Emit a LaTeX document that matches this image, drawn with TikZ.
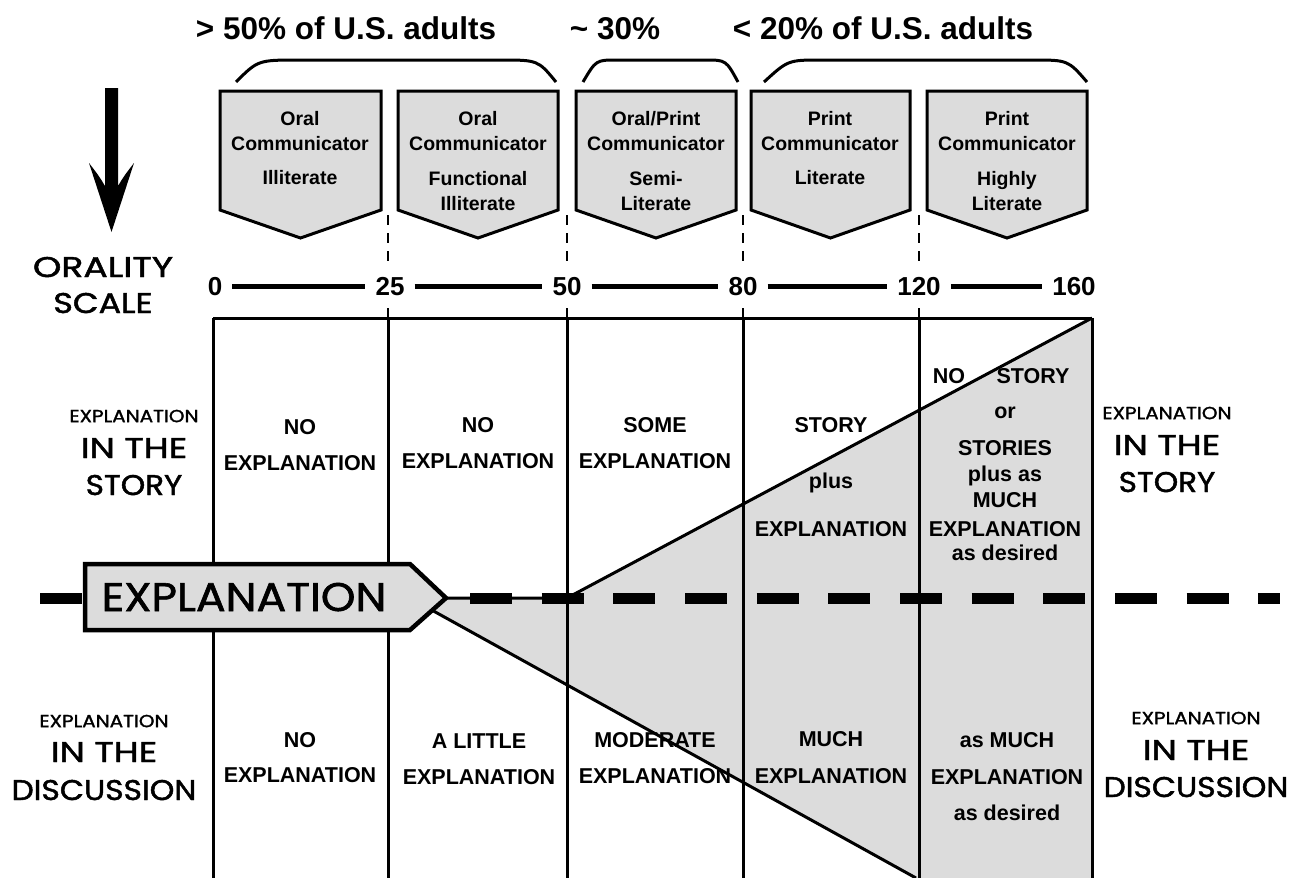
\documentclass[tikz,border=0pt]{standalone}
\usepackage{fontspec}
\usepackage{graphicx}
\setmainfont{Liberation Sans}
\newfontfamily\comicfont[FakeBold=1.5]{Poppins}
\definecolor{boxgray}{HTML}{DCDCDC}
\newcommand\sx[2]{\scalebox{#1}[1]{#2}}
\begin{document}
\begin{tikzpicture}[x=1pt,y=-1pt,
  lab/.style={inner sep=0pt, text height=15.5pt, text depth=0pt, font=\bfseries\fontsize{21.5}{21.5}\selectfont},
  blab/.style={inner sep=0pt, text height=14pt, text depth=0pt, font=\bfseries\fontsize{19.5}{19.5}\selectfont},
  ttl/.style={inner sep=0pt, text height=22.5pt, text depth=0pt, font=\bfseries\fontsize{31.5}{31.5}\selectfont},
  num/.style={inner sep=0pt, text height=18.6pt, text depth=0pt, font=\bfseries\fontsize{26}{26}\selectfont},
  csmall/.style={inner sep=0pt, text height=12.3pt, text depth=0pt, font=\comicfont\fontsize{17.5}{17.5}\selectfont},
  cbig/.style={inner sep=0pt, text height=20pt, text depth=0pt, font=\comicfont\fontsize{28.5}{28.5}\selectfont},
  cexpl/.style={inner sep=0pt, text height=28pt, text depth=0pt, font=\comicfont\fontsize{40}{40}\selectfont},
  pentstyle/.style={draw=black, line width=3pt, fill=boxgray, line join=miter},
  brace/.style={draw=black, line width=3pt},
  scaleline/.style={line width=5pt, shorten <=10pt, shorten >=10pt},
  tick/.style={line width=2.5pt, dash pattern=on 10pt off 8pt},
  grid/.style={line width=3pt},
  diag/.style={line width=3pt},
  bigdash/.style={line width=11pt, dash pattern=on 42pt off 29.67pt}
]
\useasboundingbox (0,0) rectangle (1304,878);

% titles
\node[ttl] (t1) at (346,28) {> 50\% of U.S. adults};
\node[ttl] (t2) at (615,28) {\textasciitilde{} 30\%};
\node[ttl] (t3) at (883,28) {< 20\% of U.S. adults};

% braces
\draw[brace] (236,82) .. controls (258,60) .. (300,60) -- (500,60) .. controls (538,60) .. (556,82);
\draw[brace] (583,82) .. controls (596,60) .. (617,60) -- (705,60) .. controls (726,60) .. (738,82);
\draw[brace] (764,82) .. controls (788,60) .. (822,60) -- (1032,60) .. controls (1068,60) .. (1087,82);

% pentagon boxes
\newcommand\pentbox[2]{\draw[pentstyle] (#1,91) -- (#2,91) -- (#2,210) -- ({(#1+#2)/2},238) -- (#1,210) -- cycle;}
\pentbox{220}{381}
\pentbox{398}{558}
\pentbox{576}{736}
\pentbox{751}{910}
\pentbox{927}{1087}

\node[blab] (b1a) at (300,118) {Oral};
\node[blab] (b1b) at (300,143) {Communicator};
\node[blab] (b1c) at (300,177) {Illiterate};
\node[blab] (b2a) at (478,118) {Oral};
\node[blab] (b2b) at (478,143) {Communicator};
\node[blab] (b2c) at (478,178) {Functional};
\node[blab] (b2d) at (478,203) {Illiterate};
\node[blab] (b3a) at (656,118) {Oral/Print};
\node[blab] (b3b) at (656,143) {Communicator};
\node[blab] (b3c) at (656,178) {Semi-};
\node[blab] (b3d) at (656,203) {Literate};
\node[blab] (b4a) at (830,118) {Print};
\node[blab] (b4b) at (830,143) {Communicator};
\node[blab] (b4c) at (830,177) {Literate};
\node[blab] (b5a) at (1007,118) {Print};
\node[blab] (b5b) at (1007,143) {Communicator};
\node[blab] (b5c) at (1007,178) {Highly};
\node[blab] (b5d) at (1007,203) {Literate};

% down arrow
\fill (105,88) -- (118,88) -- (118,186) .. controls (124,176) .. (134,163) -- (111.5,232) -- (89,163) .. controls (99,176) .. (105,186) -- cycle;

% orality scale
\node[cbig] (or1) at (103,267) {\sx{1.27}{ORALITY}};
\node[cbig] (or2) at (103,303) {\sx{1.17}{SCALE}};

\node[num] (n0) at (215,286) {0};
\node[num] (n25) at (390,286) {25};
\node[num] (n50) at (567,286) {50};
\node[num] (n80) at (743,286) {80};
\node[num] (n120) at (919,286) {120};
\node[num] (n160) at (1074,286) {160};
\draw[scaleline] (n0) -- (n25);
\draw[scaleline] (n25) -- (n50);
\draw[scaleline] (n50) -- (n80);
\draw[scaleline] (n80) -- (n120);
\draw[scaleline] (n120) -- (n160);

% dashed ticks
\foreach \x in {388,567,743,919} {
  \draw[tick] (\x,215) -- (\x,262);
  \draw[tick] (\x,308) -- (\x,318);
}

% gray region
\fill[boxgray] (410,598) -- (567,598) -- (1092,318) -- (1092,878) -- (916,878) -- cycle;

% table grid
\draw[grid] (213,318) -- (1092,318);
\foreach \x in {213,388,567,743,919,1092} {
  \draw[grid] (\x,318) -- (\x,878);
}

% cell texts (upper)
\node[lab] (u1a) at (300,427) {NO};
\node[lab] (u1b) at (300,463) {EXPLANATION};
\node[lab] (u2a) at (478,425) {NO};
\node[lab] (u2b) at (478,461) {EXPLANATION};
\node[lab] (u3a) at (655,425) {SOME};
\node[lab] (u3b) at (655,461) {EXPLANATION};
\node[lab] (u4a) at (831,425) {STORY};
\node[lab] (u4b) at (831,481) {plus};
\node[lab] (u4c) at (831,529) {EXPLANATION};
\node[lab] (u5a) at (949,376) {NO};
\node[lab] (u5b) at (1033,376) {STORY};
\node[lab] (u5c) at (1005,411) {or};
\node[lab] (u5d) at (1005,448) {STORIES};
\node[lab] (u5e) at (1005,474) {plus as};
\node[lab] (u5f) at (1005,500) {MUCH};
\node[lab] (u5g) at (1005,529) {EXPLANATION};
\node[lab] (u5h) at (1005,553) {as desired};

% cell texts (lower)
\node[lab] (l1a) at (300,740) {NO};
\node[lab] (l1b) at (300,775) {EXPLANATION};
\node[lab] (l2a) at (479,741) {A LITTLE};
\node[lab] (l2b) at (479,777) {EXPLANATION};
\node[lab] (l3a) at (655,740) {MODERATE};
\node[lab] (l3b) at (655,776) {EXPLANATION};
\node[lab] (l4a) at (831,739) {MUCH};
\node[lab] (l4b) at (831,776) {EXPLANATION};
\node[lab] (l5a) at (1007,740) {as MUCH};
\node[lab] (l5b) at (1007,777) {EXPLANATION};
\node[lab] (l5c) at (1007,813) {as desired};

% diagonals
\draw[diag, line join=miter] (446,598) -- (567,598) -- (1092,318);
\draw[diag] (410,598) -- (916,878);

% big dashed line
\draw[bigdash] (40,598) -- (1280,598);

% EXPLANATION box
\draw[line width=4.5pt, fill=boxgray, line join=miter] (85,564) -- (410,564) -- (446,598) -- (410,630) -- (85,630) -- cycle;
\node[cexpl] (expl) at (244,597) {\sx{1.10}{EXPLANATION}};

% side labels
\node[csmall] (sl1) at (134,416) {\sx{1.14}{EXPLANATION}};
\node[cbig] (sl2) at (134,448) {\sx{1.26}{IN THE}};
\node[cbig] (sl3) at (134,485) {\sx{1.09}{STORY}};
\node[csmall] (sr1) at (1167,413) {\sx{1.14}{EXPLANATION}};
\node[cbig] (sr2) at (1167,445) {\sx{1.26}{IN THE}};
\node[cbig] (sr3) at (1167,482) {\sx{1.09}{STORY}};
\node[csmall] (dl1) at (104,721) {\sx{1.14}{EXPLANATION}};
\node[cbig] (dl2) at (104,752) {\sx{1.26}{IN THE}};
\node[cbig] (dl3) at (104,790) {\sx{1.10}{DISCUSSION}};
\node[csmall] (dr1) at (1196,718) {\sx{1.14}{EXPLANATION}};
\node[cbig] (dr2) at (1196,750) {\sx{1.26}{IN THE}};
\node[cbig] (dr3) at (1196,787) {\sx{1.10}{DISCUSSION}};
\end{tikzpicture}
\end{document}
